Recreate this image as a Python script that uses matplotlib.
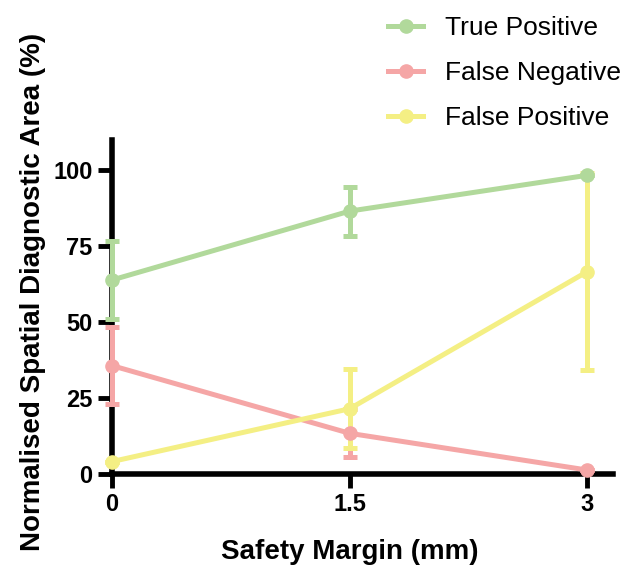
import numpy as np
import matplotlib.pyplot as plt

plt.rcParams['font.family'] = ['Liberation Sans', 'DejaVu Sans']

margin = [0, 1.5, 3]
tick_labels = ['0', '1.5', '3']

tp = [63.9, 86.6, 98.4]
tp_err = [12.9, 8.1, 0]
fn = [35.7, 13.4, 1.3]
fn_err = [12.7, 7.9, 0]
fp = [4.1, 21.5, 66.7]
fp_err = [0, 13.0, 32.3]

series = [
    ('True Positive', tp, tp_err, '#b1d99b'),
    ('False Negative', fn, fn_err, '#f5a6a6'),
    ('False Positive', fp, fp_err, '#f4ef84'),
]

fig = plt.figure(figsize=(6.24, 5.67), dpi=100)
ax = fig.add_axes([0.1795, 0.164, 0.8025, 0.589])

for name, vals, err, col in series:
    h = ax.errorbar(margin, vals, yerr=err, color=col, lw=3.6, marker='o', ms=9.5,
                    capsize=5, capthick=3.6, elinewidth=3.6, label=name, clip_on=False, zorder=3)
    for art in h.lines[1] + h.lines[2]:
        art.set_clip_on(False)

ax.set_xlim(0, 3.16)
ax.set_ylim(0, 110)
ax.set_xticks(margin)
ax.set_xticklabels(tick_labels)
ax.set_yticks([0, 25, 50, 75, 100])

for s in ['top', 'right']:
    ax.spines[s].set_visible(False)
for s in ['left', 'bottom']:
    ax.spines[s].set_linewidth(4)
ax.tick_params(width=3.5, length=10, labelsize=17, pad=4)
for lab in ax.get_xticklabels() + ax.get_yticklabels():
    lab.set_fontweight('bold')

ax.set_xlabel('Safety Margin (mm)', fontsize=20, fontweight='bold')
ax.set_ylabel('Normalised Spatial Diagnostic Area (%)', fontsize=20, fontweight='bold')
ax.xaxis.set_label_coords(0.475, -0.195)
ax.yaxis.set_label_coords(-0.132, 0.545)

leg_handles = [plt.Line2D([], [], color=c, lw=3.6, marker='o', ms=9.5) for _, _, _, c in series]
fig.legend(leg_handles, [s[0] for s in series], loc='upper left', bbox_to_anchor=(0.622, 0.972),
           frameon=False, fontsize=19, handlelength=1.33, labelspacing=0.8, handletextpad=0.83,
           borderaxespad=0, borderpad=0)

fig.savefig('out.png', dpi=100)
